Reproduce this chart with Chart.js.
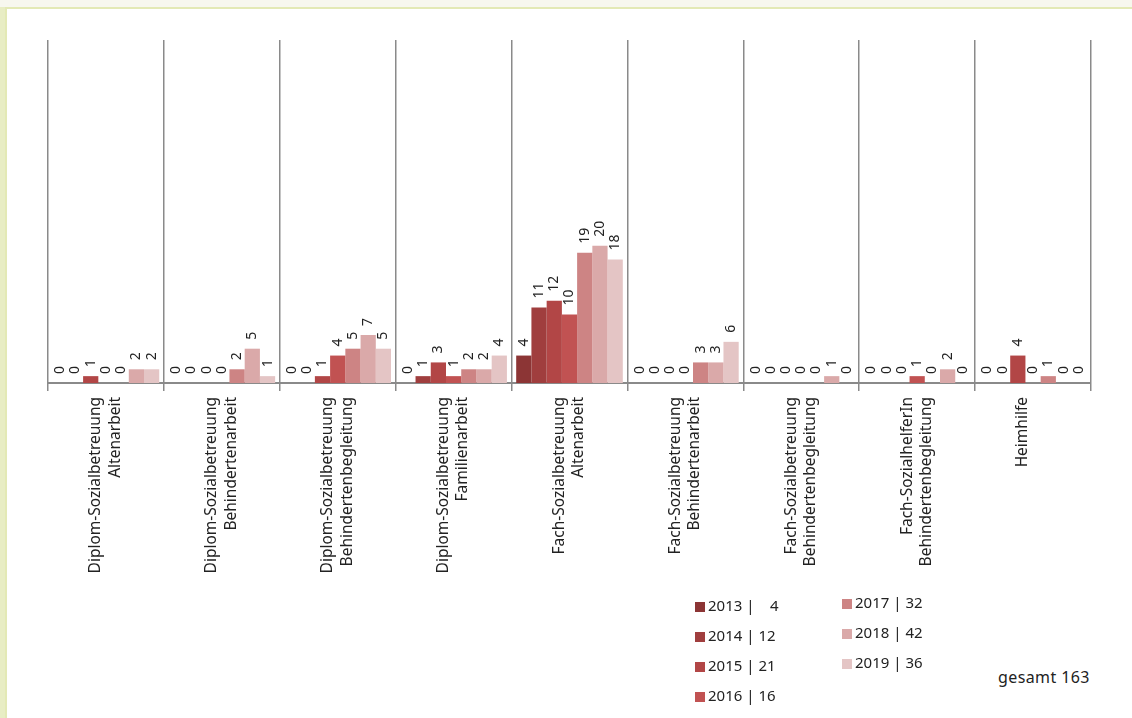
<!DOCTYPE html>
<html>
<head>
<meta charset="utf-8">
<script src="https://cdn.jsdelivr.net/npm/chart.js@4/dist/chart.umd.min.js"></script>
<style>
  html, body { margin: 0; padding: 0; }
  body { width: 1132px; height: 718px; background: #e8edc4; overflow: hidden; position: relative; font-family: "Noto Sans", sans-serif; }
  #panel { position: absolute; left: 5px; top: 7px; width: 1140px; height: 720px; background: #fff; border-top: 2px solid #e3e9b5; border-left: 2px solid #e3e9b5; }
  #topband { position: absolute; left: 0; top: 0; width: 1132px; height: 7px; background: #f7f7ee; }
  #wrap { position: absolute; left: 0; top: 0; width: 1132px; height: 600px; }
  #legend { position: absolute; left: 695px; top: 595px; font-size: 15px; color: #222; }
  .item { position: absolute; white-space: pre; line-height: 20px; }
  .sw { display: inline-block; width: 10px; height: 10px; margin-right: 3px; vertical-align: -1px; }
  #total { position: absolute; left: 998px; top: 666px; font-size: 16px; letter-spacing: 0.4px; color: #222; }
</style>
</head>
<body>
<div id="topband"></div>
<div id="panel"></div>
<div id="wrap"><canvas id="chart" width="1132" height="600"></canvas></div>
<div id="legend"></div>
<div id="total"></div>
<script>
// Ausbildungen (x-Achse)
const categories = [
  ["Diplom-Sozialbetreuung", "Altenarbeit"],
  ["Diplom-Sozialbetreuung", "Behindertenarbeit"],
  ["Diplom-Sozialbetreuung", "Behindertenbegleitung"],
  ["Diplom-Sozialbetreuung", "Familienarbeit"],
  ["Fach-Sozialbetreuung", "Altenarbeit"],
  ["Fach-Sozialbetreuung", "Behindertenarbeit"],
  ["Fach-Sozialbetreuung", "Behindertenbegleitung"],
  ["Fach-SozialhelferIn", "Behindertenbegleitung"],
  ["Heimhilfe"]
];

const years = ["2013", "2014", "2015", "2016", "2017", "2018", "2019"];

const values2013 = [0, 0, 0, 0, 4, 0, 0, 0, 0];
const values2014 = [0, 0, 0, 1, 11, 0, 0, 0, 0];
const values2015 = [1, 0, 1, 3, 12, 0, 0, 0, 4];
const values2016 = [0, 0, 4, 1, 10, 0, 0, 1, 0];
const values2017 = [0, 2, 5, 2, 19, 3, 0, 0, 1];
const values2018 = [2, 5, 7, 2, 20, 3, 1, 2, 0];
const values2019 = [2, 1, 5, 4, 18, 6, 0, 0, 0];

const colors = ["#8c3535", "#a03e3e", "#b24646", "#c15252", "#cd8484", "#daa9a9", "#e4c5c5"];

const allValues = [values2013, values2014, values2015, values2016, values2017, values2018, values2019];

// Beschriftung ueber den Balken (senkrecht)
const barLabels = {
  id: "barLabels",
  afterDatasetsDraw(chart) {
    const ctx = chart.ctx;
    ctx.save();
    ctx.font = "14px 'Noto Sans', sans-serif";
    ctx.fillStyle = "#222";
    ctx.textAlign = "left";
    ctx.textBaseline = "middle";
    chart.data.datasets.forEach((ds, i) => {
      chart.getDatasetMeta(i).data.forEach((bar, j) => {
        ctx.save();
        ctx.translate(bar.x, bar.y - 9);
        ctx.rotate(-Math.PI / 2);
        ctx.fillText(String(ds.data[j]), 0, 0);
        ctx.restore();
      });
    });
    ctx.restore();
  }
};

new Chart(document.getElementById("chart"), {
  type: "bar",
  data: {
    labels: categories,
    datasets: years.map((y, i) => ({
      label: y,
      data: allValues[i],
      backgroundColor: colors[i],
      borderWidth: 0,
      barPercentage: 1,
      categoryPercentage: 0.92
    }))
  },
  options: {
    responsive: false,
    animation: false,
    layout: { padding: { left: 48, right: 41, top: 40, bottom: 0 } },
    plugins: { legend: { display: false }, tooltip: { enabled: false } },
    scales: {
      y: { display: false, min: 0, max: 50 },
      x: {
        afterFit(scale) { scale.height = 217; },
        border: { color: "#8a8a8a", width: 2 },
        grid: { color: "#8a8a8a", lineWidth: 1.5, tickLength: 8 },
        ticks: {
          minRotation: 90,
          maxRotation: 90,
          padding: 6,
          labelOffset: -10,
          color: "#222",
          font: { family: "'Noto Sans', sans-serif", size: 15.5, lineHeight: 1.25 }
        }
      }
    }
  },
  plugins: [barLabels]
});

// Legende mit Jahressummen
const legend = document.getElementById("legend");
const totals = allValues.map(v => v.reduce((a, b) => a + b, 0));
years.forEach((y, i) => {
  const col = i < 4 ? 0 : 1;
  const row = i < 4 ? i : i - 4;
  const div = document.createElement("div");
  div.className = "item";
  div.style.left = (col * 147) + "px";
  div.style.top = (row * 30 + (col ? -3 : 0)) + "px";
  const num = totals[i] < 10 ? "   " + totals[i] : String(totals[i]);
  div.innerHTML = `<span class="sw" style="background:${colors[i]}"></span>${y} | ${num}`;
  legend.appendChild(div);
});
document.getElementById("total").textContent = "gesamt " + totals.reduce((a, b) => a + b, 0);
</script>
</body>
</html>
